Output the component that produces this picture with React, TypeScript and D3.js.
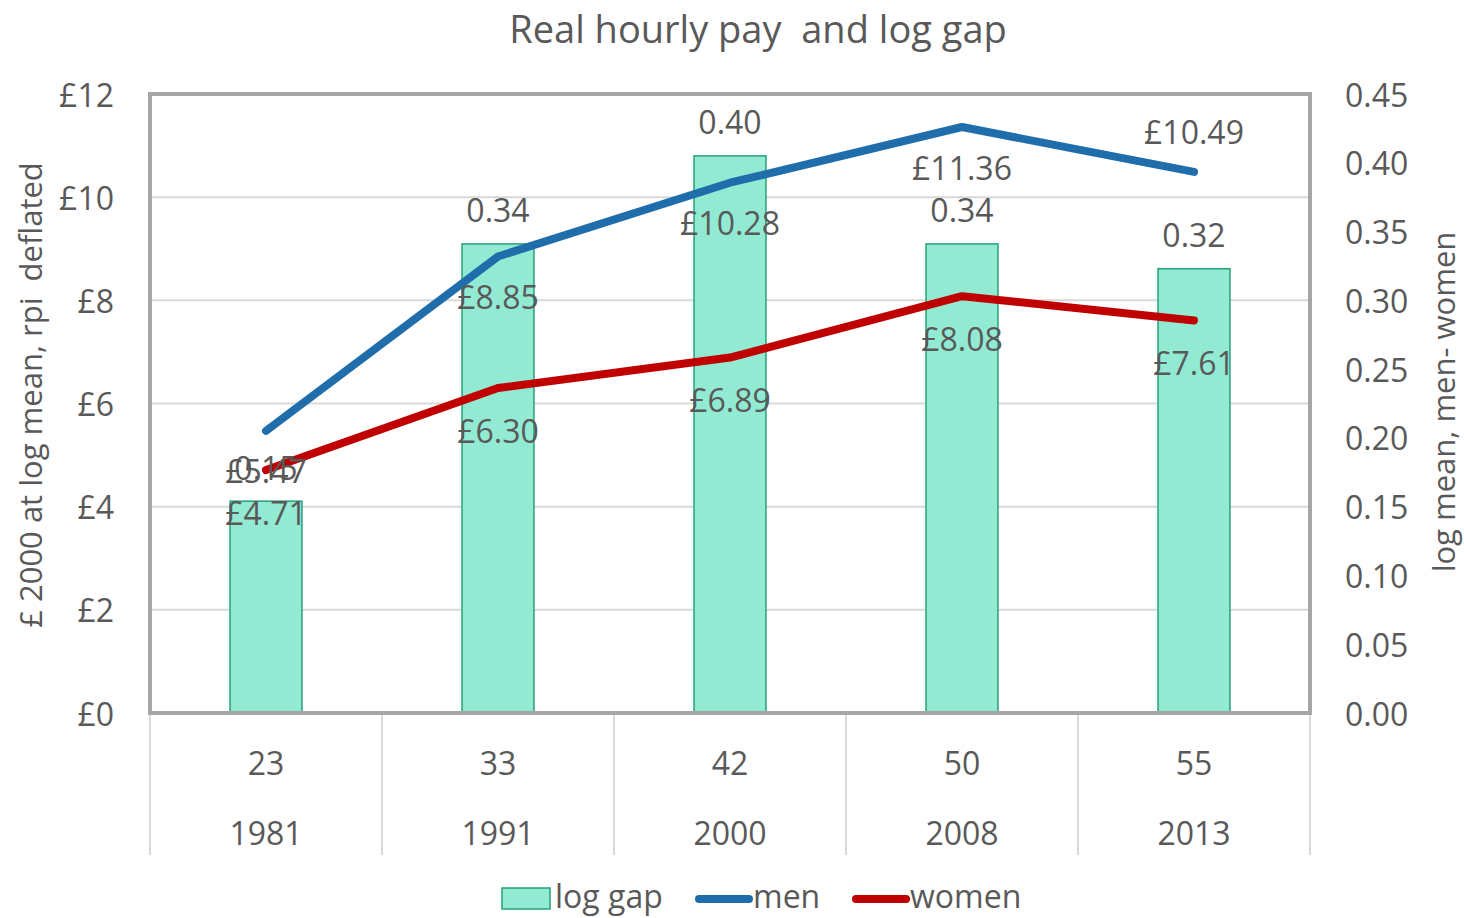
import React, { useRef, useEffect } from 'react'
import * as d3 from "d3";

// data
const years = ["1981", "1991", "2000", "2008", "2013"];
const ages = ["23", "33", "42", "50", "55"];
const logGap = [0.154, 0.341, 0.405, 0.341, 0.323];
const logGapLabels = ["0.15", "0.34", "0.40", "0.34", "0.32"];
const men = [5.47, 8.85, 10.28, 11.36, 10.49];
const women = [4.71, 6.30, 6.89, 8.08, 7.61];
const leftTicks = [0, 2, 4, 6, 8, 10, 12];
const rightTicks = [0, 0.05, 0.1, 0.15, 0.2, 0.25, 0.3, 0.35, 0.4, 0.45];
// men label sits above the point only for the last one
const menLabelAbove = [false, false, false, false, true];

const W = 1464, H = 918;
const TEXT = "#595959";
const FONT = "'Open Sans', 'Noto Sans', sans-serif";
const FS = 32;

const App = () => {
  const svgEl = useRef(null);

  useEffect(() => {
    document.body.style.margin = "0";
    const svg = d3.select(svgEl.current);
    svg.selectAll("*").remove();

    const left = 150, right = 1310, top = 94, bottom = 713;
    const x = d3.scaleBand().domain(years).range([left, right]).padding(0);
    const yL = d3.scaleLinear().domain([0, 12]).range([bottom, top]);
    const yR = d3.scaleLinear().domain([0, 0.45]).range([bottom, top]);
    const cx = (i) => x(years[i]) + x.bandwidth() / 2;
    const barW = x.bandwidth() * 0.31;

    svg.append("rect").attr("width", W).attr("height", H).attr("fill", "white");

    // title
    svg.append("text").attr("x", 758).attr("y", 28)
      .attr("text-anchor", "middle").attr("dominant-baseline", "central").attr("fill", TEXT)
      .attr("font-size", 38).attr("font-family", FONT)
      .style("white-space", "pre")
      .text("Real hourly pay  and log gap");

    // gridlines
    svg.append("g").selectAll("line").data(leftTicks.slice(1, -1)).enter()
      .append("line")
      .attr("x1", left).attr("x2", right)
      .attr("y1", d => yL(d)).attr("y2", d => yL(d))
      .attr("stroke", "#D9D9D9").attr("stroke-width", 2);

    // bars
    svg.append("g").selectAll("rect").data(logGap).enter()
      .append("rect")
      .attr("x", (d, i) => cx(i) - barW / 2)
      .attr("width", barW)
      .attr("y", d => yR(d))
      .attr("height", d => bottom - yR(d))
      .attr("fill", "#92EAD3").attr("stroke", "#25A078").attr("stroke-width", 1.5);

    // plot border
    svg.append("rect").attr("x", left).attr("y", top)
      .attr("width", right - left).attr("height", bottom - top)
      .attr("fill", "none").attr("stroke", "#A6A6A6").attr("stroke-width", 4);

    // category separators
    const seps = d3.range(years.length + 1).map(i => left + i * x.step());
    svg.append("g").selectAll("line").data(seps).enter()
      .append("line")
      .attr("x1", d => d).attr("x2", d => d)
      .attr("y1", bottom + 2).attr("y2", 855)
      .attr("stroke", "#D9D9D9").attr("stroke-width", 2);

    // lines
    const line = d3.line().x((d, i) => cx(i)).y(d => yL(d));
    svg.append("path").datum(men).attr("d", line)
      .attr("fill", "none").attr("stroke", "#1F6EAB").attr("stroke-width", 8)
      .attr("stroke-linecap", "round").attr("stroke-linejoin", "round");
    svg.append("path").datum(women).attr("d", line)
      .attr("fill", "none").attr("stroke", "#C00000").attr("stroke-width", 8)
      .attr("stroke-linecap", "round").attr("stroke-linejoin", "round");

    const lbl = (g, data, xf, yf, tf) => g.selectAll("text").data(data).enter()
      .append("text")
      .attr("x", xf).attr("y", yf)
      .attr("text-anchor", "middle").attr("dominant-baseline", "central")
      .attr("fill", TEXT).attr("font-size", FS).attr("font-family", FONT)
      .text(tf);

    // data labels
    lbl(svg.append("g"), logGap, (d, i) => cx(i), d => yR(d) - 34, (d, i) => logGapLabels[i]);
    lbl(svg.append("g"), men, (d, i) => cx(i), (d, i) => yL(d) + (menLabelAbove[i] ? -40 : 40), d => "£" + d.toFixed(2));
    lbl(svg.append("g"), women, (d, i) => cx(i), d => yL(d) + 42, d => "£" + d.toFixed(2));

    // left axis ticks
    svg.append("g").selectAll("text").data(leftTicks).enter()
      .append("text")
      .attr("x", 114).attr("y", d => yL(d))
      .attr("text-anchor", "end").attr("dominant-baseline", "central")
      .attr("fill", TEXT).attr("font-size", FS).attr("font-family", FONT)
      .text(d => "£" + d);

    // right axis ticks
    svg.append("g").selectAll("text").data(rightTicks).enter()
      .append("text")
      .attr("x", 1345).attr("y", d => yR(d))
      .attr("text-anchor", "start").attr("dominant-baseline", "central")
      .attr("fill", TEXT).attr("font-size", FS).attr("font-family", FONT)
      .text(d => d3.format(".2f")(d));

    // category labels (two levels)
    lbl(svg.append("g"), ages, (d, i) => cx(i), 762, d => d);
    lbl(svg.append("g"), years, (d, i) => cx(i), 832, d => d);

    // axis titles
    svg.append("text")
      .attr("transform", "translate(30,395) rotate(-90)")
      .attr("text-anchor", "middle").attr("dominant-baseline", "central")
      .attr("fill", TEXT).attr("font-size", 31).attr("font-family", FONT)
      .style("white-space", "pre")
      .text("£ 2000 at log mean, rpi  deflated");
    svg.append("text")
      .attr("transform", "translate(1443,402) rotate(-90)")
      .attr("text-anchor", "middle").attr("dominant-baseline", "central")
      .attr("fill", TEXT).attr("font-size", 31).attr("font-family", FONT)
      .text("log mean, men- women");

    // legend
    const lg = svg.append("g").attr("font-family", FONT).attr("font-size", FS).attr("fill", TEXT);
    lg.append("rect").attr("x", 502).attr("y", 888).attr("width", 48).attr("height", 21)
      .attr("fill", "#92EAD3").attr("stroke", "#25A078").attr("stroke-width", 1.5);
    lg.append("text").attr("x", 555).attr("y", 895).attr("dominant-baseline", "central").text("log gap");
    lg.append("line").attr("x1", 699).attr("x2", 749).attr("y1", 899).attr("y2", 899)
      .attr("stroke", "#1F6EAB").attr("stroke-width", 8).attr("stroke-linecap", "round");
    lg.append("text").attr("x", 753).attr("y", 895).attr("dominant-baseline", "central").text("men");
    lg.append("line").attr("x1", 856).attr("x2", 906).attr("y1", 899).attr("y2", 899)
      .attr("stroke", "#C00000").attr("stroke-width", 8).attr("stroke-linecap", "round");
    lg.append("text").attr("x", 910).attr("y", 895).attr("dominant-baseline", "central").text("women");
  }, []);

  return (
    <svg ref={svgEl} width={W} height={H} style={{ display: "block" }} />
  )
}

export default App;
